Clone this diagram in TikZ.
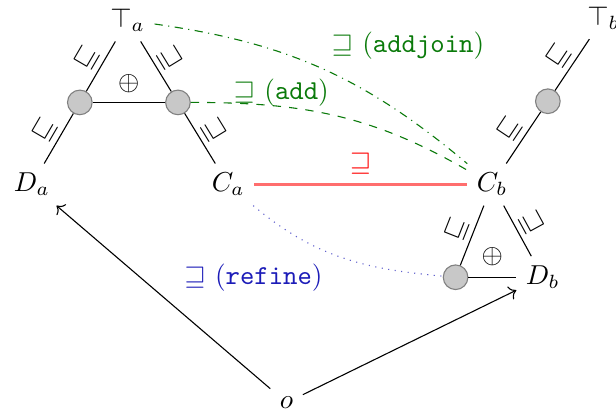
\documentclass[tikz,border=0pt]{standalone}
\usepackage{amsmath, amssymb}
\usepackage{tikz}
\usetikzlibrary{arrows.meta, positioning, calc}
\definecolor{addgreen}{HTML}{0A7A0A}
\definecolor{refineblue}{HTML}{1C1CB8}
\definecolor{linkred}{HTML}{FF6E6E}
\definecolor{dotgray}{HTML}{C8C8C8}

\begin{document}
\begin{tikzpicture}[
    >=To,
    dot/.style={
      circle, draw=gray, fill=dotgray, minimum size=9pt, inner sep=0pt
    },
    rel/.style={sloped, above, inner sep=2pt}
  ]
  \useasboundingbox (0,0) rectangle (7.91,5.39);

  % left diagram
  \node (Ta) at (1.64,5.13) {$\top_a$};
  \node (Da) at (0.41,3.02) {$D_a$};
  \node (Ca) at (2.93,3.02) {$C_a$};
  \node[dot] (la) at ($(Ta)!0.5!(Da)$) {};
  \node[dot] (ra) at ($(Ta)!0.5!(Ca)$) {};
  \node (plusa) at ($(la)!0.5!(ra)+(0,0.24)$) {$\oplus$};

  \draw (Da) -- (la) node[rel, midway] {$\sqsubseteq$};
  \draw (la) -- (Ta) node[rel, midway] {$\sqsubseteq$};
  \draw (Ta) -- (ra) node[rel, midway] {$\sqsupseteq$};
  \draw (ra) -- (Ca) node[rel, midway] {$\sqsupseteq$};
  \draw (la) -- (ra);

  % right diagram
  \node (Cb) at (6.32,3.02) {$C_b$};
  \node (Tb) at (7.75,5.16) {$\top_b$};
  \node[dot] (mb) at ($(Cb)!0.5!(Tb)$) {};
  \node[dot] (lb) at (5.85,1.83) {};
  \node (Db) at (6.97,1.83) {$D_b$};
  \node (plusb) at (6.32,2.09) {$\oplus$};

  \draw (Cb) -- (mb) node[rel, midway] {$\sqsubseteq$};
  \draw (mb) -- (Tb) node[rel, midway] {$\sqsubseteq$};
  \draw (lb) -- (Cb) node[rel, midway] {$\sqsubseteq$};
  \draw (Cb) -- (Db) node[rel, midway] {$\sqsupseteq$};
  \draw (lb) -- (Db);

  % origin
  \node (o) at (3.68,0.22) {$o$};
  \draw[->] (o) -- (Da);
  \draw[->] (o) -- (Db);

  % relations between the diagrams
  \draw[linkred, thick] (Ca) -- (Cb)
    node[midway, above, text=red] {$\sqsupseteq$};
  \draw[addgreen, dashed] (ra) to[out=0, in=150]
    node[pos=0.3, above, inner sep=0pt, text=addgreen] {$\sqsupseteq$ (\texttt{add})} (Cb);
  \draw[addgreen, dash dot] (Ta) to[out=-8, in=140]
    node[pos=0.5, above right, text=addgreen] {$\sqsupseteq$ (\texttt{addjoin})} (Cb);
  \draw[refineblue!70, dotted] (Ca) to[out=-40, in=175]
    node[pos=0.45, below left, text=refineblue] {$\sqsupseteq$ (\texttt{refine})} (lb);

\end{tikzpicture}
\end{document}
